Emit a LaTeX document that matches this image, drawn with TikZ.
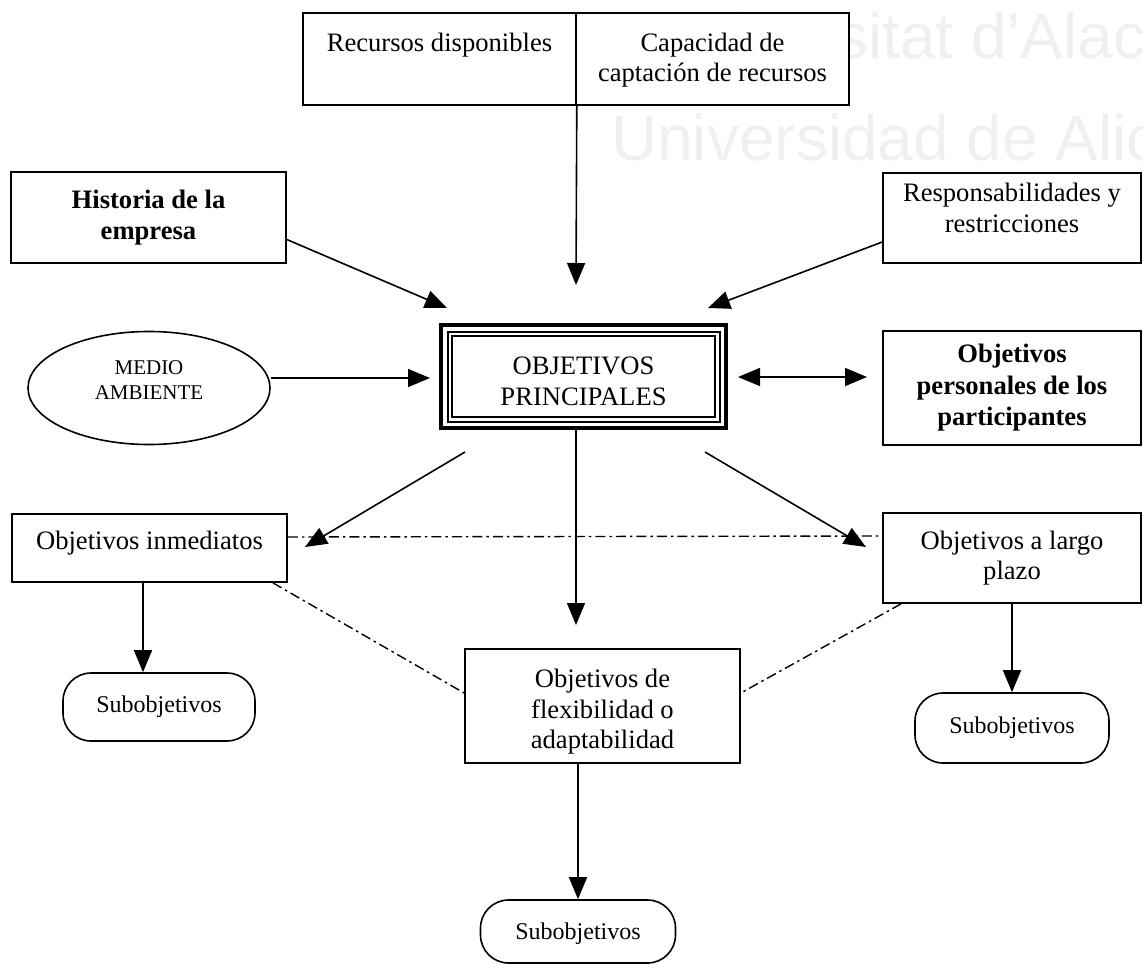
\documentclass[tikz,border=0pt]{standalone}
\usepackage{fontspec}
\setmainfont{Liberation Serif}
\newfontfamily\wmfont{Liberation Sans}
\usetikzlibrary{arrows.meta,shapes.geometric,calc}
\newcommand\dgmain{\fontsize{26.6pt}{30.5pt}\selectfont}
\newcommand\dgbold{\fontsize{26.6pt}{31.5pt}\selectfont\bfseries}
\newcommand\dgsub{\fontsize{24pt}{28pt}\selectfont}
\newcommand\dgsmall{\fontsize{21pt}{25pt}\selectfont}
\newcommand\dgwm{\wmfont\fontsize{64pt}{70pt}\selectfont}
\begin{document}
\begin{tikzpicture}[x=1pt,y=-1pt,
  box/.style={draw, line width=1.6pt, fill=white, rectangle, inner sep=0pt, align=center, font=\dgmain},
  bbox/.style={box, font=\dgbold},
  rbox/.style={box, rounded corners=28pt, font=\dgsub},
  arr/.style={line width=1.6pt, -{Triangle[length=22pt,width=18pt]}},
  dbl/.style={line width=1.6pt, {Triangle[length=22pt,width=18pt]}-{Triangle[length=22pt,width=18pt]}},
  dd/.style={line width=1.4pt, dash pattern=on 10pt off 4pt on 2.5pt off 4pt},
  wm/.style={font=\dgwm, text=black!6, inner sep=0pt}]
\useasboundingbox (0,0) rectangle (1143,964);
\begin{scope}
  \clip (0,0) rectangle (1143,964);
  \node[wm, anchor=base west] (wm1) at (651,58) {Universitat d’Alacant};
  \node[wm, anchor=base west] (wm2) at (611,160) {Universidad de Alicante};
\end{scope}

% boxes
\node[box, minimum width=273pt, minimum height=92pt] (topL) at (439.5,59) {\mbox{}\\[-6pt]Recursos disponibles\\\strut};
\node[box, minimum width=273pt, minimum height=92pt] (topR) at (712.5,59) {\mbox{}\\[-6pt]Capacidad de\\captación de recursos\strut};
\node[bbox, minimum width=275pt, minimum height=91pt] (hist) at (148.5,217.5) {Historia de la\\empresa};
\node[box, minimum width=258pt, minimum height=90pt] (resp) at (1012,218) {Responsabilidades y\\restricciones\\[-10pt]\mbox{}};
\node[draw, ellipse, line width=1.6pt, fill=white, inner sep=0pt, minimum width=242pt, minimum height=113pt, align=center, font=\dgsmall] (ell) at (149,388) {MEDIO\\AMBIENTE\\[-9pt]\mbox{}};
\node[box, line width=4pt, minimum width=285pt, minimum height=103pt] (obj) at (583.5,376.5) {\mbox{}\\[-3pt]OBJETIVOS\\PRINCIPALES};
\draw[line width=2pt] ([shift={(8.5,8.5)}]obj.north west) rectangle ([shift={(-8.5,-8.5)}]obj.south east);
\draw[line width=1.6pt] ([shift={(13,13)}]obj.north west) rectangle ([shift={(-13,-13)}]obj.south east);
\node[bbox, minimum width=258pt, minimum height=114pt] (pers) at (1012,388) {Objetivos\\personales de los\\participantes};
\node[box, minimum width=275pt, minimum height=68pt] (inm) at (149.5,548) {Objetivos inmediatos\\[-16pt]\mbox{}};
\node[box, minimum width=258pt, minimum height=90pt] (lar) at (1012,558) {Objetivos a largo\\plazo};
\node[box, minimum width=275pt, minimum height=114pt] (flex) at (602.5,706) {\mbox{}\\Objetivos de\\flexibilidad o\\adaptabilidad};
\node[rbox, minimum width=192pt, minimum height=68pt] (sub1) at (159,707) {Subobjetivos};
\node[rbox, minimum width=194pt, minimum height=70pt] (sub2) at (1012,728) {Subobjetivos};
\node[rbox, minimum width=195pt, minimum height=63pt] (sub3) at (578,931.5) {\mbox{}\\[-6pt]Subobjetivos};

% dash-dot links
\draw[dd] ([yshift=11pt]inm.east) -- ([yshift=22pt]lar.west);
\draw[dd] ([xshift=-15pt]inm.south east) -- ([yshift=13pt]flex.west);
\draw[dd] ([xshift=19pt]lar.south west) -- ([yshift=13pt]flex.east);

% arrows
\coordinate (tTop) at (576,285);
\draw[arr] (topL.south east) -- (tTop);
\coordinate (tHist) at (447,308);
\draw[arr] ([yshift=-22pt]hist.east) -- (tHist);
\coordinate (tResp) at (708,308);
\draw[arr] ([yshift=-24pt]resp.west) -- (tResp);
\coordinate (tEll) at (430,378);
\draw[arr] ([yshift=10pt]ell.east) -- (tEll);
\coordinate (dL) at (738,377);
\coordinate (dR) at (867,377);
\draw[dbl] (dL) -- (dR);
\coordinate (sInm) at (465,452);
\coordinate (tInm) at (305,547);
\draw[arr] (sInm) -- (tInm);
\coordinate (sLar) at (705,452);
\coordinate (tLar) at (866,547);
\draw[arr] (sLar) -- (tLar);
\coordinate (tFlex) at (576,625);
\draw[arr] (obj.south -| tFlex) -- (tFlex);
\coordinate (ax1) at (143,0);
\draw[arr] (inm.south -| ax1) -- (sub1.north -| ax1);
\draw[arr] (lar.south) -- (sub2.north);
\draw[arr] (flex.south -| sub3.north) -- (sub3.north);
\end{tikzpicture}
\end{document}
